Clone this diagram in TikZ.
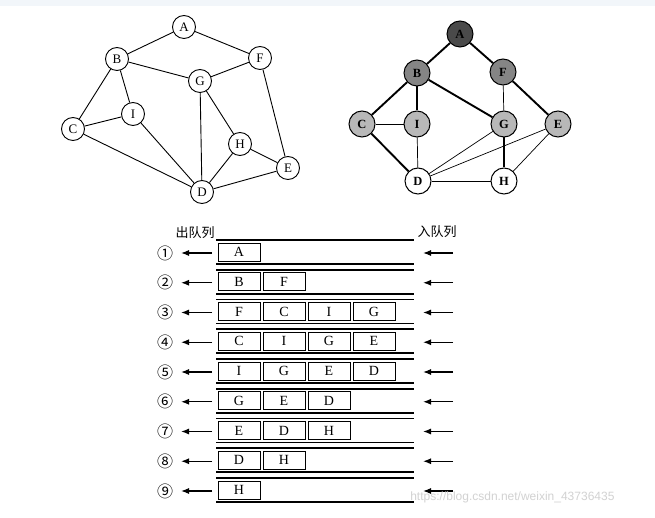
\documentclass[tikz,border=0pt]{standalone}
\usepackage{fontspec}
\setmainfont{Liberation Serif}
\newfontfamily\cjk{Noto Sans CJK SC}
\newfontfamily\wmfont{Liberation Sans}
\usetikzlibrary{arrows.meta}
\definecolor{gdark}{HTML}{4A4A4A}
\definecolor{gmid}{HTML}{858585}
\definecolor{glight}{HTML}{B8B8B8}
\definecolor{topband}{HTML}{F2F6FA}
\begin{document}
\begin{tikzpicture}[x=1pt,y=-1pt,
  lv/.style={circle,draw,line width=0.9pt,minimum size=23pt,inner sep=0pt,font=\fontsize{13}{13}\selectfont,fill=white},
  rv/.style={circle,draw,line width=1pt,minimum size=26pt,inner sep=0pt,font=\fontsize{12.5}{12.5}\selectfont\bfseries},
  ledge/.style={line width=0.9pt},
  thick edge/.style={line width=1.9pt},
  thin edge/.style={line width=0.7pt},
  qbox/.style={draw,line width=0.9pt,minimum width=42pt,minimum height=18pt,inner sep=0pt,font=\fontsize{14}{14}\selectfont},
  qline/.style={line width=1.8pt},
  qarrow/.style={line width=1.1pt,-{Latex[length=8pt,width=6pt]}},
  qnum/.style={font=\cjk\fontsize{16}{16}\selectfont},
  qlabel/.style={font=\cjk\fontsize{13}{13}\selectfont}
]
\useasboundingbox (0,0) rectangle (655,518);
\fill[white] (0,0) rectangle (655,518);
\fill[topband] (0,0) rectangle (655,6);

% ---------- left graph ----------
\node[lv] (A) at (184,27) {A};
\node[lv] (B) at (117,59) {B};
\node[lv] (F) at (260,58) {F};
\node[lv] (G) at (200,81) {G};
\node[lv] (I) at (133,114) {I};
\node[lv] (C) at (73,129) {C};
\node[lv] (H) at (240,144) {H};
\node[lv] (E) at (288,168) {E};
\node[lv] (D) at (202,192) {D};
\foreach \u/\v in {A/B,A/F,B/G,G/F,B/C,B/I,C/I,C/D,I/D,G/D,G/H,H/D,H/E,F/E,D/E}
  \draw[ledge] (\u) -- (\v);

% ---------- right graph ----------
\node[rv,fill=gdark] (rA) at (460,34) {A};
\node[rv,fill=gmid] (rB) at (417,73) {B};
\node[rv,fill=gmid] (rF) at (503,72) {F};
\node[rv,fill=glight] (rC) at (362,124) {C};
\node[rv,fill=glight] (rI) at (417,124) {I};
\node[rv,fill=glight] (rG) at (504,124) {G};
\node[rv,fill=glight] (rE) at (558,124) {E};
\node[rv,fill=white] (rD) at (418,181) {D};
\node[rv,fill=white] (rH) at (504,181) {H};
\foreach \u/\v in {rA/rB,rA/rF,rB/rC,rB/rI,rB/rG,rF/rE,rC/rD,rG/rH}
  \draw[thick edge] (\u) -- (\v);
\foreach \u/\v in {rF/rG,rC/rI,rI/rD,rG/rD,rE/rD,rE/rH,rD/rH}
  \draw[thin edge] (\u) -- (\v);

% ---------- queue ----------
\node[qlabel] (out) at (195,233) {出队列};
\node[qlabel] (in) at (437,232) {入队列};
\foreach \i/\content in {
  1/{A},2/{B,F},3/{F,C,I,G},4/{C,I,G,E},5/{I,G,E,D},
  6/{G,E,D},7/{E,D,H},8/{D,H},9/{H}} {
  \pgfmathsetmacro{\yy}{253+(\i-1)*29.75}
  \pgfmathsetmacro{\ya}{\yy-13}
  \pgfmathsetmacro{\yb}{\yy+11}
  \pgfmathsetmacro{\yc}{\yy-1}
  \draw[qline] (216,\ya) -- (414,\ya);
  \draw[qline] (216,\yb) -- (414,\yb);
  \foreach \c [count=\j] in \content {
    \pgfmathsetmacro{\xx}{239+(\j-1)*45}
    \node[qbox] (b\i-\j) at (\xx,\yc) {\c};
  }
  \node[qnum] (n\i) at (165,\yy) {\ifcase\i\or ①\or ②\or ③\or ④\or ⑤\or ⑥\or ⑦\or ⑧\or ⑨\fi};
  \coordinate (ls\i) at (212,\yy);
  \coordinate (le\i) at (181,\yy);
  \coordinate (rs\i) at (453,\yy);
  \coordinate (re\i) at (423,\yy);
  \draw[qarrow] (ls\i) -- (le\i);
  \draw[qarrow] (rs\i) -- (re\i);
}

% watermark url
\node[font=\wmfont\fontsize{12}{12}\selectfont,text=gray!35,anchor=base east] (url) at (618,500) {https://blog.csdn.net/weixin\_43736435};
\end{tikzpicture}
\end{document}
